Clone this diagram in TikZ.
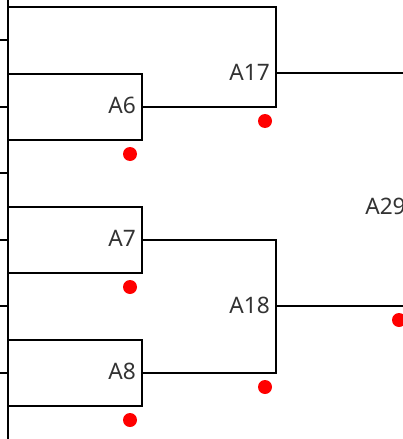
\documentclass[tikz,border=0pt]{standalone}
\usepackage{fontspec}
\setmainfont{Noto Sans}
\usepackage{tikz}
\tikzset{
    link/.style={draw=black,line width=2pt},
    lbl/.style={anchor=base east,inner sep=0pt,text=black!80,font=\fontsize{17}{20}\selectfont},
    reddot/.style={circle,fill=red,inner sep=0pt,minimum size=10.5pt}
}

\begin{document}
\begin{tikzpicture}[x=0.75pt,y=-0.75pt]
            \useasboundingbox (0,0) rectangle (403,439);
            \clip (0,0) rectangle (403,439);
            % left stems
            \draw[link] (8,0) -- (8,439);
            \foreach \y in {40,107,173,240,306,373}
                \draw[link] (0,\y) -- (8,\y);
            % junctions
            \coordinate (a6) at (142,107);
            \coordinate (a7) at (142,240);
            \coordinate (a8) at (142,373);
            \coordinate (a17) at (276,73);
            \coordinate (a18) at (276,306);
            \coordinate (a29) at (410,206);
            % first level
            \draw[link] (8,74) -| (a6) |- (8,140);
            \draw[link] (8,207) -| (a7) |- (8,273);
            \draw[link] (8,340) -| (a8) |- (8,406);
            % second level
            \draw[link] (8,7) -| (a17);
            \draw[link] (a6) -| (a17);
            \draw[link] (a7) -| (a18);
            \draw[link] (a8) -| (a18);
            % third level
            \draw[link] (a17) -- (a17 -| a29);
            \draw[link] (a18) -- (a18 -| a29);
            % labels
            \node[lbl] (l6) at (136,113) {A6};
            \node[lbl] (l7) at (136,246) {A7};
            \node[lbl] (l8) at (136,379) {A8};
            \node[lbl] (l17) at (270,80) {A17};
            \node[lbl] (l18) at (270,313) {A18};
            \node[lbl,anchor=base west] (l29) at (365,214) {A29};
            % markers
            \node[reddot] (d6) at (130,154) {};
            \node[reddot] (d7) at (130,287) {};
            \node[reddot] (d8) at (130,420) {};
            \node[reddot] (d17) at (265,121) {};
            \node[reddot] (d18) at (265,387) {};
            \node[reddot] (d29) at (399,320) {};
        \end{tikzpicture}
\end{document}
